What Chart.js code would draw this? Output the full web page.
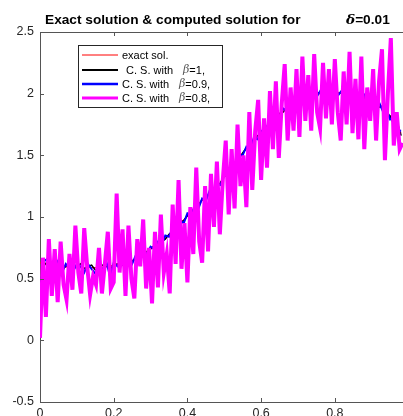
<!DOCTYPE html>
<html>
<head>
<meta charset="utf-8">
<script src="https://cdn.jsdelivr.net/npm/chart.js@4/dist/chart.umd.min.js"></script>
<style>
  html, body { margin: 0; padding: 0; overflow: hidden; background: #fff; }
  #wrap { position: absolute; left: 0; top: 0; }
</style>
</head>
<body>
<div id="wrap"><canvas id="solChart" width="416" height="424"></canvas></div>
<script>
// coarse x grid (exact sol., beta = 1, beta = 0.9)
const xs = [0.00,0.01,0.02,0.03,0.04,0.05,0.06,0.07,0.08,0.09,
            0.10,0.11,0.12,0.13,0.14,0.15,0.16,0.17,0.18,0.19,
            0.20,0.21,0.22,0.23,0.24,0.25,0.26,0.27,0.28,0.29,
            0.30,0.31,0.32,0.33,0.34,0.35,0.36,0.37,0.38,0.39,
            0.40,0.41,0.42,0.43,0.44,0.45,0.46,0.47,0.48,0.49,
            0.50,0.51,0.52,0.53,0.54,0.55,0.56,0.57,0.58,0.59,
            0.60,0.61,0.62,0.63,0.64,0.65,0.66,0.67,0.68,0.69,
            0.70,0.71,0.72,0.73,0.74,0.75,0.76,0.77,0.78,0.79,
            0.80,0.81,0.82,0.83,0.84,0.85,0.86,0.87,0.88,0.89,
            0.90,0.91,0.92,0.93,0.94,0.95,0.96,0.97,0.98];

// fine x grid (beta = 0.8)
const xsFine = [0.000,0.008,0.016,0.024,0.032,0.040,0.048,0.056,0.064,0.072,
                0.080,0.088,0.096,0.104,0.112,0.120,0.128,0.136,0.144,0.152,
                0.160,0.168,0.176,0.184,0.192,0.200,0.208,0.216,0.224,0.232,
                0.240,0.248,0.256,0.264,0.272,0.280,0.288,0.296,0.304,0.312,
                0.320,0.328,0.336,0.344,0.352,0.360,0.368,0.376,0.384,0.392,
                0.400,0.408,0.416,0.424,0.432,0.440,0.448,0.456,0.464,0.472,
                0.480,0.488,0.496,0.504,0.512,0.520,0.528,0.536,0.544,0.552,
                0.560,0.568,0.576,0.584,0.592,0.600,0.608,0.616,0.624,0.632,
                0.640,0.648,0.656,0.664,0.672,0.680,0.688,0.696,0.704,0.712,
                0.720,0.728,0.736,0.744,0.752,0.760,0.768,0.776,0.784,0.792,
                0.800,0.808,0.816,0.824,0.832,0.840,0.848,0.856,0.864,0.872,
                0.880,0.888,0.896,0.904,0.912,0.920,0.928,0.936,0.944,0.952,
                0.960,0.968,0.976,0.984];

// exact solution
const exactSol = [0.63,0.62,0.615,0.61,0.605,0.60,0.60,0.595,0.59,0.59,
                  0.59,0.59,0.59,0.59,0.59,0.59,0.59,0.595,0.60,0.605,
                  0.61,0.615,0.62,0.63,0.64,0.65,0.66,0.68,0.70,0.72,
                  0.74,0.76,0.78,0.80,0.83,0.86,0.89,0.92,0.95,0.98,
                  1.01,1.04,1.07,1.10,1.13,1.16,1.19,1.22,1.25,1.28,
                  1.32,1.36,1.40,1.44,1.48,1.52,1.55,1.58,1.62,1.65,
                  1.68,1.71,1.74,1.77,1.80,1.83,1.86,1.88,1.90,1.92,
                  1.94,1.95,1.96,1.97,1.98,1.99,2.00,2.00,2.01,2.01,
                  2.01,2.01,2.01,2.00,2.00,2.00,1.99,1.98,1.97,1.96,
                  1.95,1.93,1.91,1.88,1.85,1.81,1.77,1.73,1.68];

// computed solution, beta = 1
const csBeta1 = [0.45,0.60,0.64,0.55,0.58,0.62,0.57,0.60,0.61,0.58,
                 0.60,0.62,0.58,0.60,0.61,0.57,0.59,0.61,0.60,0.58,
                 0.61,0.62,0.60,0.63,0.65,0.64,0.66,0.68,0.71,0.72,
                 0.74,0.77,0.78,0.80,0.82,0.86,0.88,0.92,0.95,0.97,
                 1.01,1.05,1.06,1.10,1.14,1.15,1.19,1.23,1.24,1.28,
                 1.33,1.35,1.40,1.45,1.47,1.52,1.56,1.57,1.62,1.66,
                 1.67,1.71,1.75,1.76,1.80,1.84,1.85,1.89,1.90,1.91,
                 1.95,1.94,1.97,1.98,1.97,2.00,2.01,1.99,2.02,2.00,
                 2.02,2.00,2.01,2.02,1.99,2.01,1.98,2.00,1.96,1.97,
                 1.94,1.95,1.89,1.90,1.84,1.82,1.75,1.76,1.66];

// computed solution, beta = 0.9
const csBeta09 = [0.38,0.64,0.66,0.52,0.60,0.65,0.55,0.62,0.58,0.56,
                  0.62,0.60,0.55,0.62,0.58,0.54,0.62,0.57,0.64,0.52,
                  0.63,0.60,0.64,0.60,0.67,0.62,0.69,0.65,0.72,0.70,
                  0.76,0.74,0.80,0.78,0.85,0.84,0.91,0.88,0.97,0.95,
                  1.03,1.02,1.09,1.07,1.15,1.13,1.21,1.20,1.27,1.26,
                  1.34,1.34,1.42,1.42,1.50,1.50,1.57,1.55,1.64,1.63,
                  1.70,1.69,1.76,1.75,1.82,1.81,1.88,1.86,1.92,1.90,
                  1.96,1.93,1.98,1.96,2.00,1.97,2.02,1.98,2.03,1.99,
                  2.03,1.99,2.03,1.98,2.02,1.98,2.01,1.95,1.99,1.94,
                  1.97,1.91,1.93,1.86,1.88,1.79,1.80,1.70,1.70];

// computed solution, beta = 0.8 (on xsFine)
const csBeta08 = [0.02,0.67,0.19,0.82,0.36,0.74,0.31,0.80,0.45,0.33,
                  0.70,0.41,0.93,0.55,0.38,0.91,0.60,0.37,0.52,0.45,
                  0.75,0.38,0.62,0.88,0.42,0.47,1.19,0.55,0.90,0.36,
                  0.93,0.50,0.34,0.82,0.60,0.98,0.42,0.75,0.30,0.88,
                  0.43,1.02,0.55,0.70,0.38,1.10,0.62,1.30,0.58,0.95,
                  0.47,1.08,0.70,1.40,0.80,0.63,1.25,0.72,1.35,0.92,
                  1.45,0.86,1.30,1.62,1.02,1.55,1.07,1.75,1.25,1.50,
                  1.08,1.85,1.22,1.70,1.95,1.30,1.80,1.40,2.02,1.55,
                  2.10,1.48,1.92,2.24,1.62,2.05,1.70,2.20,1.65,2.30,
                  1.78,2.15,1.70,2.32,1.85,1.72,2.25,1.80,2.20,1.75,
                  2.28,1.85,1.62,2.18,1.75,2.34,1.68,2.12,1.63,2.30,
                  1.55,2.05,1.78,2.20,1.62,2.10,2.36,1.46,2.00,2.45,
                  1.58,1.85,1.55,1.60];

const xTicks = [0, 0.2, 0.4, 0.6, 0.8, 1];
const yTicks = [-0.5, 0, 0.5, 1, 1.5, 2, 2.5];

const seriesNames = ['exact sol.', 'C. S. with', 'C. S. with', 'C. S. with'];
const betaLabels = ['', '=1,', '=0.9,', '=0.8,'];
const seriesColors = ['#ff0000', '#000000', '#0000ff', '#ff00ff'];
const seriesWidths = [1, 1.5, 2, 4];
const legendWidths = [1, 2, 2.5, 3];

const toPts = (xv, ys) => xv.map((x, i) => ({ x: x, y: ys[i] }));
const allSeries = [
    toPts(xs, exactSol),
    toPts(xs, csBeta1),
    toPts(xs, csBeta09),
    toPts(xsFine, csBeta08)
];

const axisColor = '#555';
const textColor = '#262626';
const font = '"Liberation Sans", Arial, Helvetica, sans-serif';

// title, legend box and inward tick marks
const decorations = {
    id: 'decorations',
    afterDraw(chart) {
        const c = chart.ctx;
        const a = chart.chartArea;
        const sx = chart.scales.x, sy = chart.scales.y;
        c.save();

        // box + inward ticks
        c.strokeStyle = axisColor;
        c.lineWidth = 1;
        c.beginPath();
        c.moveTo(a.left, a.top + 0.5);
        c.lineTo(a.right, a.top + 0.5);
        c.moveTo(a.right - 0.5, a.top);
        c.lineTo(a.right - 0.5, a.bottom);
        xTicks.forEach(v => {
            const px = Math.round(sx.getPixelForValue(v)) + 0.5;
            c.moveTo(px, a.bottom); c.lineTo(px, a.bottom - 4);
            c.moveTo(px, a.top); c.lineTo(px, a.top + 4);
        });
        yTicks.forEach(v => {
            const py = Math.round(sy.getPixelForValue(v)) + 0.5;
            c.moveTo(a.left, py); c.lineTo(a.left + 4, py);
            c.moveTo(a.right, py); c.lineTo(a.right - 4, py);
        });
        c.stroke();

        // title
        c.fillStyle = '#000';
        c.textBaseline = 'alphabetic';
        c.textAlign = 'left';
        c.font = 'bold 13.7px ' + font;
        c.fillText('Exact solution & computed solution for', 45, 24);
        c.font = 'italic bold 13.7px "DejaVu Serif", serif';
        c.fillText('\u03b4', 346, 24);
        const dw = c.measureText('\u03b4').width;
        c.font = 'bold 13.7px ' + font;
        c.fillText('=0.01', 346 + dw, 24);

        // legend
        const bx = 78.5, by = 45.5, bw = 144, bh = 62;
        c.fillStyle = '#fff';
        c.fillRect(bx, by, bw, bh);
        c.strokeStyle = '#262626';
        c.lineWidth = 1;
        c.strokeRect(bx, by, bw, bh);
        const rowY = [55, 70, 84, 98];
        const textX = [122, 126, 122, 122];
        const betaX = [0, 183, 179, 179];
        seriesNames.forEach((name, i) => {
            c.strokeStyle = seriesColors[i];
            c.lineWidth = legendWidths[i];
            c.beginPath();
            c.moveTo(82, rowY[i]);
            c.lineTo(118, rowY[i]);
            c.stroke();
            c.fillStyle = '#000';
            c.textBaseline = 'middle';
            c.font = '11px ' + font;
            c.fillText(name, textX[i], rowY[i] + 0.5);
            if (betaLabels[i]) {
                c.fillStyle = '#555';
                c.font = 'italic 11px "DejaVu Serif", serif';
                c.fillText('\u03b2', betaX[i], rowY[i] + 0.5);
                const bwid = c.measureText('\u03b2').width;
                c.fillStyle = '#000';
                c.font = '11px ' + font;
                c.fillText(betaLabels[i], betaX[i] + bwid, rowY[i] + 0.5);
            }
        });
        c.restore();
    }
};

const ctx = document.getElementById('solChart').getContext('2d');

const solChart = new Chart(ctx, {
    type: 'line',
    data: {
        datasets: allSeries.map((pts, i) => ({
            label: seriesNames[i] + ' ' + betaLabels[i],
            data: pts,
            borderColor: seriesColors[i],
            borderWidth: seriesWidths[i],
            pointRadius: 0,
            tension: 0,
            fill: false,
            order: 3 - i
        }))
    },
    options: {
        responsive: false,
        animation: false,
        events: [],
        layout: { padding: { top: 32, right: 6, left: 0, bottom: 0 } },
        plugins: {
            legend: { display: false },
            title: { display: false },
            tooltip: { enabled: false }
        },
        scales: {
            x: {
                type: 'linear',
                min: 0,
                max: 1,
                afterBuildTicks: s => { s.ticks = xTicks.map(v => ({ value: v })); },
                afterFit: s => { s.height = 22; },
                grid: { display: false, drawTicks: false },
                border: { display: true, color: axisColor, width: 1 },
                ticks: {
                    padding: 4, color: textColor, maxRotation: 0,
                    font: { family: font, size: 12.5 },
                    callback: v => String(v)
                }
            },
            y: {
                type: 'linear',
                min: -0.5,
                max: 2.5,
                afterBuildTicks: s => { s.ticks = yTicks.map(v => ({ value: v })); },
                afterFit: s => { s.width = 40; },
                grid: { display: false, drawTicks: false },
                border: { display: true, color: axisColor, width: 1 },
                ticks: {
                    padding: 6, color: textColor,
                    font: { family: font, size: 12.5 },
                    callback: v => String(v)
                }
            }
        }
    },
    plugins: [decorations]
});
</script>
</body>
</html>
